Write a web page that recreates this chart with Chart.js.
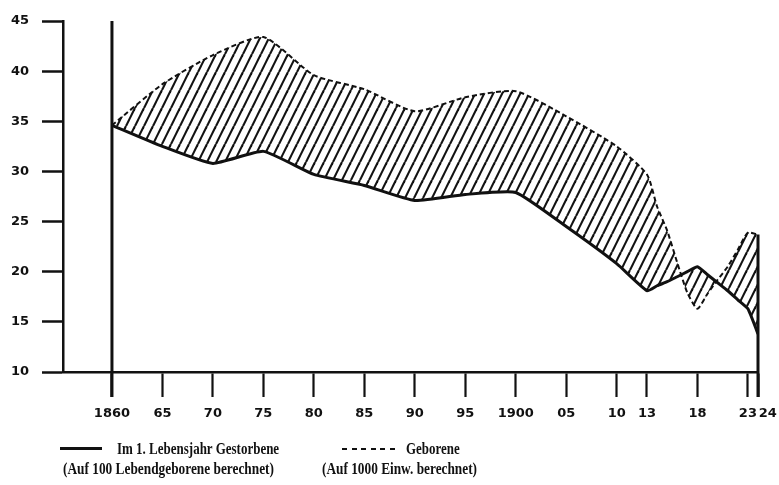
<!DOCTYPE html>
<html><head><meta charset="utf-8">
<script src="https://cdn.jsdelivr.net/npm/chart.js@4/dist/chart.umd.min.js"></script>
<style>
html,body{margin:0;padding:0;background:#fff;}
#wrap{position:relative;width:779px;height:485px;overflow:hidden;}
#c{position:absolute;left:0;top:0;}
.lg{position:absolute;font-family:"Liberation Serif","DejaVu Serif",serif;font-weight:bold;font-size:17px;color:#111;white-space:nowrap;line-height:1;transform-origin:0 50%;}
.sw{position:absolute;height:3px;}
</style></head><body>
<div id="wrap"><canvas id="c" width="779" height="485"></canvas>
<div class="sw" style="left:60px;top:447px;width:42px;background:#111;"></div>
<div class="sw" style="left:342px;top:448px;width:54px;height:2px;background:repeating-linear-gradient(90deg,#111 0 5px,transparent 5px 9.6px);"></div>
<div class="lg" data-x="117" data-y="448" data-w="162">Im 1. Lebensjahr Gestorbene</div>
<div class="lg" data-x="63" data-y="468" data-w="211">(Auf 100 Lebendgeborene berechnet)</div>
<div class="lg" data-x="406" data-y="448" data-w="54">Geborene</div>
<div class="lg" data-x="322" data-y="468" data-w="155">(Auf 1000 Einw. berechnet)</div>
</div>
<script>
// ---- data ----
const years  = [1860,1865,1870,1875,1880,1885,1890,1895,1900,1905,1910,1913,1914,1915,1916,1917,1918,1919,1920,1921,1922,1923,1924];
const deaths = [34.6,32.5,30.8,32.0,29.7,28.6,27.1,27.7,27.9,24.5,20.8,18.1,18.6,19.0,19.5,20.0,20.5,19.7,18.9,18.1,17.2,16.3,13.8];
const births = [34.6,38.7,41.6,43.4,39.6,38.2,36.0,37.4,38.0,35.5,32.5,29.7,26.5,24.1,20.9,17.9,16.3,17.8,19.2,20.5,22.2,23.9,23.7];
const tickYears  = [1860,1865,1870,1875,1880,1885,1890,1895,1900,1905,1910,1913,1918,1923,1924];
const tickLabels = ["1860","65","70","75","80","85","90","95","1900","05","10","13","18","23","\u2003\u200224"];
const yTicks = [10,15,20,25,30,35,40,45];

// hatch pattern
const pc = document.createElement('canvas');
const PW = 9, PH = 18;
pc.width = PW; pc.height = PH;
const px = pc.getContext('2d');
px.strokeStyle = '#111'; px.lineWidth = 2.1;
for (const o of [-PW, 0, PW]) { px.beginPath(); px.moveTo(o, PH); px.lineTo(o + PW, 0); px.stroke(); }
const pattern = document.getElementById('c').getContext('2d').createPattern(pc, 'repeat');

const vlines = {
  id: 'vlines',
  afterDatasetsDraw(chart) {
    const {ctx, scales: {x, y}} = chart;
    const bottom = chart.chartArea.bottom + 25;
    ctx.save();
    ctx.strokeStyle = '#111'; ctx.lineWidth = 3;
    ctx.beginPath();
    ctx.moveTo(x.getPixelForValue(years[0]), y.getPixelForValue(45));
    ctx.lineTo(x.getPixelForValue(years[0]), bottom);
    const last = years.length - 1;
    ctx.moveTo(x.getPixelForValue(years[last]), y.getPixelForValue(births[last]));
    ctx.lineTo(x.getPixelForValue(years[last]), bottom);
    ctx.stroke();
    ctx.restore();
  }
};

const tickFont = {family: '"DejaVu Sans", sans-serif', weight: 'bold', size: 13};

new Chart(document.getElementById('c'), {
  type: 'line',
  data: {
    datasets: [
      { label: 'Im 1. Lebensjahr Gestorbene', data: years.map((v,i)=>({x:v,y:deaths[i]})),
        borderColor: '#111', borderWidth: 3, pointRadius: 0, tension: 0.15, fill: false },
      { label: 'Geborene', data: years.map((v,i)=>({x:v,y:births[i]})),
        borderColor: '#111', borderWidth: 2, borderDash: [5,3], pointRadius: 0, tension: 0.2,
        fill: 0, backgroundColor: pattern }
    ]
  },
  options: {
    responsive: false, animation: false, devicePixelRatio: 1,
    layout: {padding: {top: 21, right: 21, left: 0, bottom: 0}},
    plugins: {legend: {display: false}, tooltip: {enabled: false}, filler: {drawTime: 'beforeDatasetsDraw'}},
    scales: {
      x: {
        type: 'linear', min: 1855.15, max: 1924,
        afterBuildTicks: s => { s.ticks = tickYears.map(v => ({value: v})); },
        afterFit: s => { s.height = 113; s.paddingLeft = 0; s.paddingRight = 0; },
        ticks: { autoSkip: false, maxRotation: 0, padding: 9, color: '#111', font: tickFont,
          callback: (v) => { const i = tickYears.indexOf(v); return i >= 0 ? tickLabels[i] : ''; } },
        grid: { drawOnChartArea: false, drawTicks: true, tickLength: 25, tickWidth: 2.2, color: '#111' },
        border: { display: true, color: '#111', width: 2.5 }
      },
      y: {
        min: 10, max: 45,
        afterBuildTicks: s => { s.ticks = yTicks.map(v => ({value: v})); },
        afterFit: s => { s.width = 63; s.paddingTop = 0; s.paddingBottom = 0; },
        ticks: { padding: 13, color: '#111', font: tickFont },
        grid: { drawOnChartArea: false, drawTicks: true, tickLength: 21, tickWidth: 2.5, color: '#111' },
        border: { display: true, color: '#111', width: 2.5 }
      }
    }
  },
  plugins: [vlines]
});

document.querySelectorAll('.lg').forEach(el => {
  const w = el.offsetWidth, h = el.offsetHeight;
  el.style.left = el.dataset.x + 'px';
  el.style.top = (el.dataset.y - h / 2) + 'px';
  el.style.transform = 'scaleX(' + (el.dataset.w / w) + ')';
});
</script>
</body></html>
